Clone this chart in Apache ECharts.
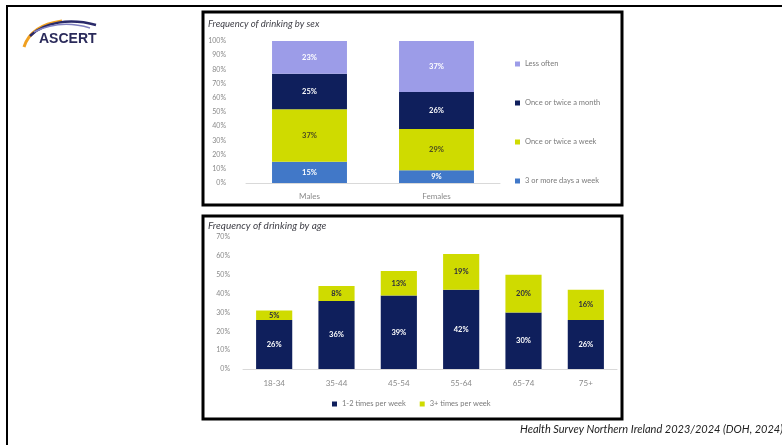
<!DOCTYPE html>
<html><head><meta charset="utf-8">
<script src="https://cdn.jsdelivr.net/npm/echarts@6/dist/echarts.min.js"></script>
<style>html,body{margin:0;padding:0;background:#fff}#c{width:782px;height:445px}</style>
</head><body><div id="c"></div>
<script>
// ---- data ----
const sexCategories = ['Males', 'Females'];
const sexSeriesNames = ['3 or more days a week', 'Once or twice a week', 'Once or twice a month', 'Less often'];
const sex3plus = [15, 9];
const sexWeek = [37, 29];
const sexMonth = [25, 26];
const sexLess = [23, 37];
const sexTicks = ['0%','10%','20%','30%','40%','50%','60%','70%','80%','90%','100%'];

const ageCategories = ['18-34', '35-44', '45-54', '55-64', '65-74', '75+'];
const age12 = [26, 36, 39, 42, 30, 26];
const age3plus = [5, 8, 13, 19, 20, 16];
const ageTicks = ['0%','10%','20%','30%','40%','50%','60%','70%'];

const titleSex = 'Frequency of drinking by sex';
const titleAge = 'Frequency of drinking by age';
const footer = 'Health Survey Northern Ireland 2023/2024 (DOH, 2024)';

// ---- styling ----
const C_LESS = '#9c9ce8', C_MONTH = '#0f1f5c', C_WEEK = '#cfdb00', C_3 = '#4178c8';
const F = 'Lato, "Open Sans", sans-serif';
const tickColor = '#8a8a8a';

function lbl(color){
  return {show:true, position:'inside', formatter: p => p.value + '%', color: color,
          fontSize: 7.5, fontWeight:'bold', fontFamily:F};
}

const chart = echarts.init(document.getElementById('c'), null, {renderer:'canvas'});
chart.setOption({
  animation:false,
  backgroundColor:'#fff',
  textStyle:{fontFamily:F},
  grid:[
    {left:246, top:41, width:254, height:142, containLabel:false},
    {left:243, top:237, width:374, height:132, containLabel:false}
  ],
  xAxis:[
    {gridIndex:0, type:'category', data:sexCategories,
     axisLine:{lineStyle:{color:'#d9d9d9'}}, axisTick:{show:false},
     axisLabel:{color:tickColor, fontSize:8, margin:9, fontFamily:F}},
    {gridIndex:1, type:'category', data:ageCategories,
     axisLine:{lineStyle:{color:'#d9d9d9'}}, axisTick:{show:false},
     axisLabel:{color:tickColor, fontSize:8, margin:10, fontFamily:F}}
  ],
  yAxis:[
    {gridIndex:0, type:'value', min:0, max:100, interval:10,
     axisLine:{show:false}, axisTick:{show:false}, splitLine:{show:false},
     axisLabel:{color:tickColor, fontSize:7, margin:20, fontFamily:F,
       formatter:(v)=> sexTicks[Math.round(v/10)]}},
    {gridIndex:1, type:'value', min:0, max:70, interval:10,
     axisLine:{show:false}, axisTick:{show:false}, splitLine:{show:false},
     axisLabel:{color:tickColor, fontSize:7, margin:13, fontFamily:F,
       formatter:(v)=> ageTicks[Math.round(v/10)]}}
  ],
  legend:[
    {data:[sexSeriesNames[3], sexSeriesNames[2], sexSeriesNames[1], sexSeriesNames[0]],
     orient:'vertical', left:510, top:55, itemWidth:5, itemHeight:5, itemGap:31,
     textStyle:{color:'#7a7a7a', fontSize:7.5, fontFamily:F}, icon:'rect'},
    {data:['1-2 times per week','3+ times per week'],
     orient:'horizontal', left:327, top:395, itemWidth:5, itemHeight:5, itemGap:14,
     textStyle:{color:'#7a7a7a', fontSize:7.5, fontFamily:F}, icon:'rect'}
  ],
  series:[
    {name:sexSeriesNames[0], type:'bar', stack:'sex', xAxisIndex:0, yAxisIndex:0, data:sex3plus,
     barWidth:'59%', itemStyle:{color:C_3}, label:lbl('#ffffff')},
    {name:sexSeriesNames[1], type:'bar', stack:'sex', xAxisIndex:0, yAxisIndex:0, data:sexWeek,
     barWidth:'59%', itemStyle:{color:C_WEEK}, label:lbl('#4a4a20')},
    {name:sexSeriesNames[2], type:'bar', stack:'sex', xAxisIndex:0, yAxisIndex:0, data:sexMonth,
     barWidth:'59%', itemStyle:{color:C_MONTH}, label:lbl('#ffffff')},
    {name:sexSeriesNames[3], type:'bar', stack:'sex', xAxisIndex:0, yAxisIndex:0, data:sexLess,
     barWidth:'59%', itemStyle:{color:C_LESS}, label:lbl('#ffffff')},
    {name:'1-2 times per week', type:'bar', stack:'age', xAxisIndex:1, yAxisIndex:1, data:age12,
     barWidth:'58%', itemStyle:{color:C_MONTH}, label:lbl('#ffffff')},
    {name:'3+ times per week', type:'bar', stack:'age', xAxisIndex:1, yAxisIndex:1, data:age3plus,
     barWidth:'58%', itemStyle:{color:C_WEEK}, label:lbl('#2a2a40')}
  ],
  graphic:[
    // outer frame
    {type:'rect', shape:{x:6, y:5, width:2, height:445}, style:{fill:'#000'}, silent:true},
    {type:'rect', shape:{x:6, y:5, width:782, height:2}, style:{fill:'#000'}, silent:true},
    // panel boxes
    {type:'rect', shape:{x:203, y:12, width:419, height:193}, style:{fill:'none', stroke:'#000', lineWidth:3}, silent:true},
    {type:'rect', shape:{x:203, y:216, width:419, height:203}, style:{fill:'none', stroke:'#000', lineWidth:3}, silent:true},
    // titles
    {type:'text', left:208, top:19, style:{text:titleSex, fill:'#404048', font:'italic 9.5px '+F}},
    {type:'text', left:208, top:221, style:{text:titleAge, fill:'#404048', font:'italic 10px '+F}},
    // footer
    {type:'text', left:520, top:424, style:{text:footer, fill:'#222', font:'italic 11px '+F}},
    // logo
    {type:'bezierCurve', shape:{x1:24, y1:47, cpx1:28, cpy1:34, cpx2:40, cpy2:24, x2:62, y2:21},
     style:{stroke:'#f0a020', lineWidth:3, fill:'none'}, silent:true},
    {type:'bezierCurve', shape:{x1:30, y1:36, cpx1:44, cpy1:22, cpx2:70, cpy2:18, x2:96, y2:25},
     style:{stroke:'#2a2a6a', lineWidth:2.5, fill:'none'}, silent:true},
    {type:'bezierCurve', shape:{x1:34, y1:32, cpx1:50, cpy1:24, cpx2:70, cpy2:22, x2:90, y2:28},
     style:{stroke:'#8080c0', lineWidth:1.5, fill:'none'}, silent:true},
    {type:'text', left:39, top:32, style:{text:'ASCERT', fill:'#2a2a5a', font:'bold 14px "Liberation Sans", Arial, sans-serif'}}
  ]
});
</script></body></html>
